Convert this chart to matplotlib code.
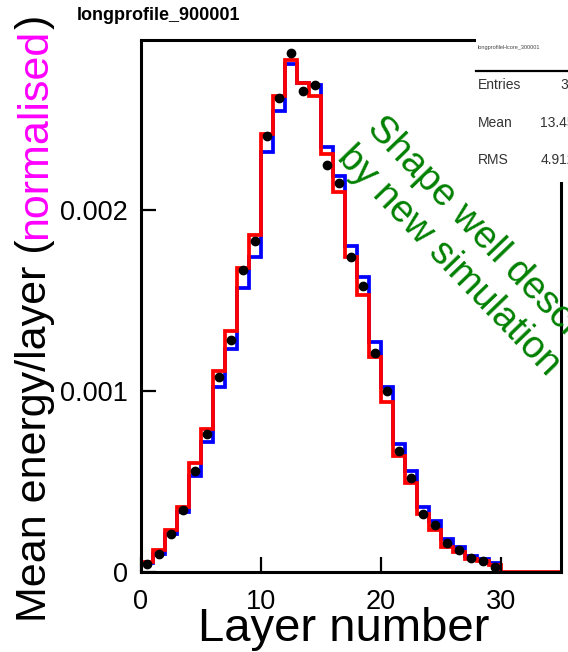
import matplotlib
matplotlib.use("Agg")
import matplotlib.pyplot as plt
import numpy as np
from matplotlib.patches import Rectangle
from matplotlib.lines import Line2D

plt.rcParams['font.family'] = ['Liberation Sans', 'DejaVu Sans']

# Layer profile (bin i covers layer i .. i+1)
layer_edges = np.arange(0, 36)
# new simulation (red), drawn on top
sim_new = [0.000056, 0.00012, 0.00023, 0.00036, 0.00060, 0.00079, 0.00111, 0.00133,
           0.00168, 0.00186, 0.00242, 0.00263, 0.00283, 0.00270, 0.00263, 0.00231,
           0.00210, 0.00174, 0.00153, 0.00119, 0.00094, 0.00064, 0.00049, 0.00032,
           0.00023, 0.00014, 0.00011, 0.00007, 0.00006, 0.00004,
           0, 0, 0, 0, 0]
# old simulation (blue)
sim_old = [0.00005, 0.00010, 0.00021, 0.00033, 0.00053, 0.00072, 0.00102, 0.00123,
           0.00157, 0.00174, 0.00232, 0.00255, 0.00281, 0.00270, 0.00269, 0.00235,
           0.00219, 0.00180, 0.00163, 0.00127, 0.00102, 0.00071, 0.00056, 0.00036,
           0.00028, 0.00018, 0.00014, 0.00009, 0.00007, 0.00005]
# data points
data_x = np.arange(30) + 0.5
data_y = [0.000046, 0.00010, 0.00021, 0.00034, 0.00056, 0.00076, 0.00108, 0.00128,
          0.00167, 0.00183, 0.00241, 0.00262, 0.00287, 0.00266, 0.00269, 0.00225,
          0.00215, 0.00174, 0.00158, 0.00121, 0.00100, 0.00067, 0.00052, 0.00032,
          0.00026, 0.00016, 0.00012, 0.00008, 0.00006, 0.00003]

xticks = [0, 10, 20, 30]
yticks = [0, 0.001, 0.002]
ytick_labels = ["0", "0.001", "0.002"]

stats_names = ["Entries", "Mean", "RMS"]
stats_values = ["30", "13.45", "4.912"]

W, H = 568, 652
fig = plt.figure(figsize=(W / 100, H / 100), dpi=100)
ax = fig.add_axes([140.7 / W, (H - 572) / H, 420 / W, 532 / H])

ax.stairs(sim_old, layer_edges[:len(sim_old) + 1], color="#0000ff", lw=2.7, baseline=None)
ax.stairs(sim_new, layer_edges, color="#ff0000", lw=2.7, baseline=None)
ax.plot(data_x, data_y, "o", color="black", ms=6, zorder=5)

ax.set_xlim(0, 35)
ax.set_ylim(0, 0.00294)
ax.set_xticks(xticks)
ax.set_yticks(yticks)
ax.set_yticklabels(ytick_labels)
ax.tick_params(direction="in", length=11, width=1.6, labelsize=19.5, top=False, right=False)
ax.tick_params(axis="x", pad=12)
ax.tick_params(axis="y", pad=9)
for sp in ax.spines.values():
    sp.set_linewidth(2.2)

# title
fig.text(77 / W, 1 - 15 / H, "longprofile_900001", fontsize=13, fontweight="bold",
         ha="left", va="center")

# x label
fig.text(344 / W, 1 - 641 / H, "Layer number", fontsize=34, ha="center", va="baseline")

# y label in pieces (magenta part)
fig.canvas.draw()
r = fig.canvas.get_renderer()
yy = 1 - 622 / H
for s, c in [("Mean energy/layer (", "black"), ("normalised", "#ff00ff"), (")", "black")]:
    t = fig.text(46 / W, yy, s, rotation=90, rotation_mode="anchor", ha="left",
                 va="baseline", color=c, fontsize=31)
    bb = t.get_window_extent(renderer=r)
    yy += bb.height / fig.bbox.height

# stats box
fig.patches.append(Rectangle((476 / W, 1 - 182 / H), 100 / W, 146 / H,
                             transform=fig.transFigure, facecolor="white",
                             edgecolor="none", zorder=10))
fig.lines.append(Line2D([476 / W, 1], [1 - 70.7 / H] * 2, transform=fig.transFigure,
                        color="black", lw=1.6, zorder=11))
fig.text(478 / W, 1 - 47 / H, "longprofileHcore_300001", fontsize=4, color="#444444",
         ha="left", va="center", zorder=12)
for i, (n, v) in enumerate(zip(stats_names, stats_values)):
    ypix = [85, 123, 160][i]
    fig.text(478 / W, 1 - ypix / H, n, fontsize=10, color="#333333", ha="left",
             va="center", zorder=12)
    fig.text([560, 540, 541][i] / W, 1 - ypix / H, v, fontsize=10, color="#333333",
             ha="left", va="center", zorder=12)

# annotation
fig.text(386 / W, 1 - 110 / H, "Shape well described\nby new simulation", fontsize=27.5,
         color="#008000", rotation=-46, rotation_mode="anchor", ha="left", va="top",
         multialignment="left", linespacing=1.2, zorder=13)

fig.savefig("out.png", dpi=100)
